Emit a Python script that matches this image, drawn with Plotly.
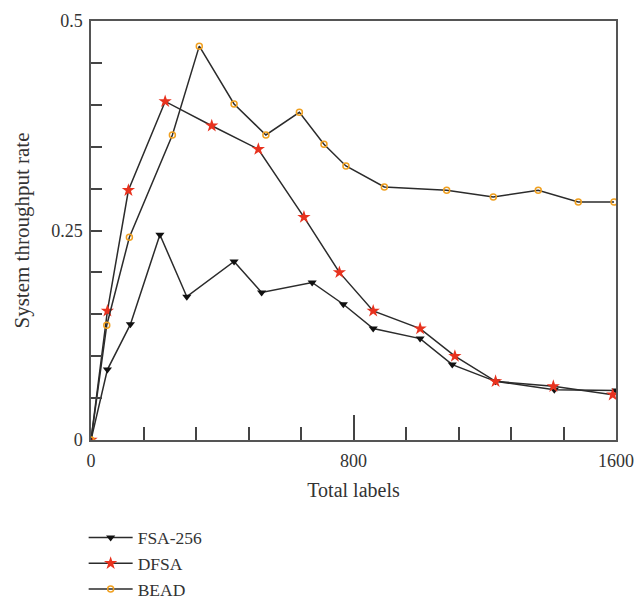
import plotly.graph_objects as go

fsa_x = [0, 50, 120, 210, 292, 436, 520, 674, 769, 860, 1003, 1101, 1233, 1412, 1600]
fsa_y = [0.0, 0.084, 0.138, 0.245, 0.171, 0.213, 0.176, 0.188, 0.162, 0.133, 0.121, 0.090, 0.070, 0.060, 0.059]

dfsa_x = [0, 50, 114, 226, 368, 510, 649, 757, 860, 1003, 1109, 1233, 1409, 1590]
dfsa_y = [0.0, 0.154, 0.298, 0.404, 0.375, 0.347, 0.266, 0.200, 0.154, 0.133, 0.100, 0.070, 0.064, 0.054]

bead_x = [0, 48, 117, 248, 330, 436, 533, 635, 710, 777, 894, 1084, 1226, 1363, 1485, 1594]
bead_y = [0.0, 0.137, 0.242, 0.364, 0.470, 0.401, 0.364, 0.391, 0.353, 0.327, 0.302, 0.298, 0.290, 0.298, 0.284, 0.284]

x_tickvals = [0, 800, 1600]
y_tickvals = [0, 0.25, 0.5]
y_ticktext = ["0", "0.25", "0.5"]

FONT = "Liberation Serif"
LINE = "#2b2b2b"
TXT = "#333333"

fig = go.Figure()
fig.add_trace(go.Scatter(
    x=fsa_x, y=fsa_y, name="FSA-256", mode="lines+markers",
    line=dict(color=LINE, width=1.5),
    marker=dict(symbol="triangle-down", size=8, color="#111111"),
))
fig.add_trace(go.Scatter(
    x=dfsa_x, y=dfsa_y, name="DFSA", mode="lines+markers",
    line=dict(color=LINE, width=1.5),
    marker=dict(symbol="star", size=10, color="#e8321e"),
))
fig.add_trace(go.Scatter(
    x=bead_x, y=bead_y, name="BEAD", mode="lines+markers",
    line=dict(color=LINE, width=1.5),
    marker=dict(symbol="circle-open", size=6, color="#f0a020", line=dict(width=1.5, color="#f0a020")),
))

fig.update_layout(
    width=638, height=604,
    margin=dict(l=91, r=22, t=21, b=164, autoexpand=False),
    paper_bgcolor="white", plot_bgcolor="white",
    font=dict(family=FONT, size=18, color=TXT),
    showlegend=True,
    legend=dict(
        x=-0.014, y=-0.19, xanchor="left", yanchor="top",
        font=dict(family=FONT, size=17.5, color=TXT),
        tracegroupgap=0, itemwidth=44,
        bgcolor="rgba(0,0,0,0)",
    ),
)
fig.update_xaxes(
    range=[0, 1600], tickvals=x_tickvals, ticktext=[str(v) for v in x_tickvals],
    ticks="inside", ticklen=25, tickwidth=1.5, tickcolor="#444444",
    minor=dict(dtick=160, tick0=0, ticks="inside", ticklen=13, tickwidth=1.5, tickcolor="#444444"),
    showline=True, linecolor="#555555", linewidth=1.5, mirror=True,
    showgrid=False, zeroline=False, automargin=False,
    ticklabelstandoff=4,
    title=dict(text="Total labels", font=dict(family=FONT, size=20), standoff=13),
    tickfont=dict(family=FONT, size=18),
)
fig.update_yaxes(
    range=[0, 0.5], tickvals=y_tickvals, ticktext=y_ticktext,
    ticks="inside", ticklen=11, tickwidth=1.5, tickcolor="#444444",
    minor=dict(dtick=0.05, tick0=0, ticks="inside", ticklen=11, tickwidth=1.5, tickcolor="#444444"),
    showline=True, linecolor="#555555", linewidth=1.5, mirror=True,
    showgrid=False, zeroline=False, automargin=False,
    ticklabelstandoff=3,
    title=dict(text="System throughput rate", font=dict(family=FONT, size=21), standoff=16),
    tickfont=dict(family=FONT, size=18),
)

fig.write_html("out.html", config={"displayModeBar": False},
               post_script="document.body.style.margin='0px';")
